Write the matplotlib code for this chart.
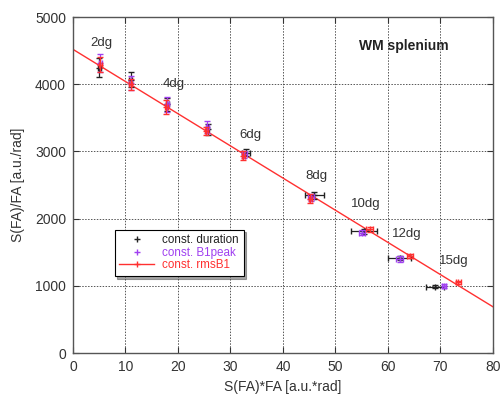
import matplotlib
matplotlib.use("Agg")
import matplotlib.pyplot as plt
import numpy as np
from matplotlib.lines import Line2D

plt.rcParams['font.family'] = ['Liberation Sans', 'DejaVu Sans']

# const. duration (black)
dur_x = [5.0, 11.0, 18.0, 25.7, 33.0, 46.0, 55.5, 62.2, 69.0]
dur_y = [4250, 4070, 3700, 3330, 2980, 2350, 1810, 1410, 990]
dur_xerr = [0.3, 0.3, 0.3, 0.3, 0.8, 1.8, 2.5, 2.2, 1.7]
dur_yerr = [140, 110, 100, 80, 50, 50, 40, 30, 20]

# const. B1peak (purple)
pk_x = [5.2, 11.0, 18.0, 25.6, 32.6, 45.4, 55.0, 62.2, 70.6]
pk_y = [4320, 4020, 3700, 3360, 2960, 2320, 1790, 1400, 1000]
pk_xerr = [0.3, 0.3, 0.3, 0.3, 0.5, 0.6, 0.6, 0.6, 0.4]
pk_yerr = [130, 100, 110, 90, 50, 50, 40, 40, 30]

# const. rmsB1 (red)
rms_x = [5.2, 11.0, 17.8, 25.4, 32.4, 45.2, 56.5, 64.2, 73.4]
rms_y = [4290, 4000, 3660, 3300, 2940, 2300, 1840, 1450, 1050]
rms_xerr = [0.3, 0.3, 0.3, 0.3, 0.3, 0.3, 0.6, 0.5, 0.5]
rms_yerr = [110, 80, 100, 60, 60, 60, 40, 30, 25]

# linear fit
fit_intercept = 4520
fit_slope = -47.9
fit_x = [0, 80]

labels = ["2dg", "4dg", "6dg", "8dg", "10dg", "12dg", "15dg"]
label_x = [5.4, 19.1, 33.8, 46.3, 55.7, 63.5, 72.5]
label_y = [4613, 4003, 3244, 2634, 2217, 1771, 1369]

fig = plt.figure(figsize=(5.01, 3.98), dpi=100)
ax = fig.add_axes([0.1457, 0.113, 0.8383, 0.844])

purple = '#a040f0'
red = '#ff3030'
txtc = '#333333'

fy = [fit_intercept + fit_slope * x for x in fit_x]
ax.plot(fit_x, fy, color=red, lw=1.0, zorder=2)

ax.errorbar(dur_x, dur_y, xerr=dur_xerr, yerr=dur_yerr, fmt='+', color='#222222',
            ms=4, mew=1, elinewidth=0.9, capsize=2, zorder=3)
ax.errorbar(pk_x, pk_y, xerr=pk_xerr, yerr=pk_yerr, fmt='+', color=purple,
            ms=4, mew=1, elinewidth=0.9, capsize=2, zorder=4)
ax.errorbar(rms_x, rms_y, xerr=rms_xerr, yerr=rms_yerr, fmt='+', color=red,
            ms=4, mew=1, elinewidth=0.9, capsize=2, zorder=5)

for t, x, y in zip(labels, label_x, label_y):
    ax.text(x, y, t, ha='center', va='center', fontsize=9.5, color=txtc)

ax.text(63.1, 4573, "WM splenium", ha='center', va='center', fontsize=10,
        fontweight='bold', color='#222222')

ax.set_xlim(0, 80)
ax.set_ylim(0, 5000)
ax.set_xticks(np.arange(0, 81, 10))
ax.set_yticks(np.arange(0, 5001, 1000))
ax.grid(True, linestyle=(0, (1.5, 1.5)), color='#555555', lw=0.7)
ax.tick_params(direction='in', top=True, right=True, labelsize=10, length=4,
               colors='#333333', pad=5)
for s in ax.spines.values():
    s.set_color('#555555')
    s.set_linewidth(1.0)

ax.set_xlabel("S(FA)*FA [a.u.*rad]", fontsize=10, color=txtc, labelpad=4)
ax.set_ylabel("S(FA)/FA [a.u./rad]", fontsize=10, color=txtc, labelpad=7)

handles = [
    Line2D([], [], ls='none', marker='+', color='#222222', ms=4),
    Line2D([], [], ls='none', marker='+', color=purple, ms=4),
    Line2D([], [], ls='-', marker='+', color=red, ms=4, lw=1),
]
leg = ax.legend(handles, ["const. duration", "const. B1peak", "const. rmsB1"],
                loc='upper left', bbox_to_anchor=(0.085, 0.385), fontsize=8.4,
                frameon=True, fancybox=False, shadow=True, borderpad=0.4,
                labelspacing=0.05, handlelength=3.0, handletextpad=0.7)
leg.get_frame().set_edgecolor('black')
leg.get_frame().set_linewidth(0.8)
for txt, c in zip(leg.get_texts(), ['#222222', purple, red]):
    txt.set_color(c)

fig.savefig("out.png", dpi=100)
